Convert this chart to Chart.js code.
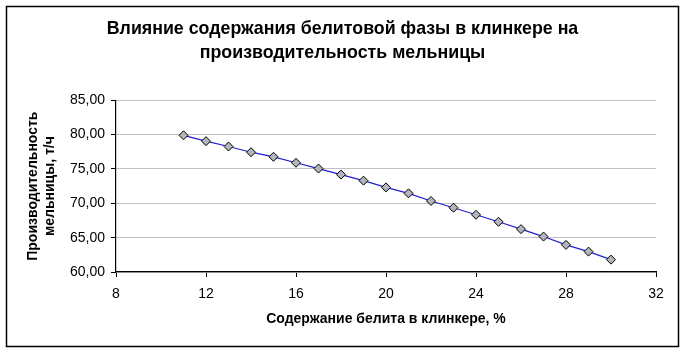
<!DOCTYPE html>
<html lang="ru">
  <head>
    <meta charset="utf-8" />
    <title>Влияние содержания белитовой фазы</title>
    <style>
      * {
        margin: 0;
        padding: 0;
      }
      body {
        background: #ffffff;
      }
      .chartBox {
        width: 685px;
        height: 353px;
      }
    </style>
  </head>
  <body>
    <div class="chartBox">
      <canvas id="myChart"></canvas>
    </div>
    <script src="https://cdn.jsdelivr.net/npm/chart.js"></script>
    <script>
      // data
      const belite = [11, 12, 13, 14, 15, 16, 17, 18, 19, 20, 21, 22, 23, 24, 25, 26, 27, 28, 29, 30];
      const output = [
        79.9, 79.05, 78.27, 77.44, 76.77, 75.9, 75.06, 74.18, 73.3, 72.32,
        71.45, 70.34, 69.36, 68.33, 67.31, 66.24, 65.16, 63.95, 62.97, 61.8,
      ];
      const titleLines = ['Влияние содержания белитовой фазы в клинкере на', 'производительность мельницы'];
      const xTitle = 'Содержание белита в клинкере, %';
      const yTitle = ['Производительность', 'мельницы, т/ч'];

      const points = belite.map((x, i) => ({ x: x, y: output[i] }));

      // outer frame around the whole chart
      const frame = {
        id: 'frame',
        afterLayout(chart) {
          // center the title on the whole canvas, not the padded box
          if (chart.titleBlock) {
            chart.titleBlock.left = 0;
            chart.titleBlock.right = chart.width;
          }
        },
        beforeDraw(chart) {
          const { ctx } = chart;
          ctx.save();
          ctx.fillStyle = '#ffffff';
          ctx.fillRect(0, 0, chart.width, chart.height);
          ctx.strokeStyle = '#000000';
          ctx.lineWidth = 1.5;
          ctx.strokeRect(6.5, 6.5, 672, 340);
          ctx.restore();
        },
      };

      const config = {
        type: 'scatter',
        data: {
          datasets: [
            {
              data: points,
              showLine: true,
              borderColor: '#2020d0',
              borderWidth: 1.2,
              pointStyle: 'rectRot',
              pointRadius: 4.5,
              pointBackgroundColor: '#b4b4bc',
              pointBorderColor: '#000000',
              pointBorderWidth: 1,
            },
          ],
        },
        options: {
          responsive: true,
          maintainAspectRatio: false,
          animation: false,
          layout: {
            padding: { left: 18, right: 29, top: 10, bottom: 10 },
          },
          plugins: {
            legend: { display: false },
            tooltip: { enabled: false },
            title: {
              display: true,
              text: titleLines,
              color: '#000000',
              font: { family: "'Liberation Sans', Arial, sans-serif", size: 17.8, weight: 'bold', lineHeight: 1.3 },
              padding: { top: 8, bottom: 36 },
            },
          },
          scales: {
            x: {
              type: 'linear',
              min: 8,
              max: 32,
              ticks: {
                stepSize: 4,
                color: '#000000',
                padding: 9,
                font: { family: "'Liberation Sans', Arial, sans-serif", size: 14 },
              },
              grid: {
                drawOnChartArea: false,
                drawTicks: true,
                tickLength: 5,
                tickColor: '#000000',
              },
              border: { color: '#000000', width: 1.2 },
              title: {
                display: true,
                text: xTitle,
                color: '#000000',
                font: { family: "'Liberation Sans', Arial, sans-serif", size: 14, weight: 'bold', lineHeight: 1.2 },
                padding: { top: 4, bottom: 15 },
              },
              afterFit(scale) {
                scale.height = 353 - 272 - 10;
              },
            },
            y: {
              min: 60,
              max: 85,
              ticks: {
                stepSize: 5,
                color: '#000000',
                padding: 6,
                font: { family: "'Liberation Sans', Arial, sans-serif", size: 14 },
                callback: (v) => v.toFixed(2).replace('.', ','),
              },
              grid: {
                color: '#c0c0c0',
                lineWidth: 1,
                tickLength: 5,
                tickColor: '#000000',
              },
              border: { color: '#000000', width: 1.2 },
              title: {
                display: true,
                text: yTitle,
                color: '#000000',
                font: { family: "'Liberation Sans', Arial, sans-serif", size: 14, weight: 'bold', lineHeight: 1.2 },
                padding: { top: 7, bottom: 0 },
              },
              afterFit(scale) {
                scale.width = 116 - 18;
              },
            },
          },
        },
        plugins: [frame],
      };

      const myChart = new Chart(document.getElementById('myChart'), config);
    </script>
  </body>
</html>
